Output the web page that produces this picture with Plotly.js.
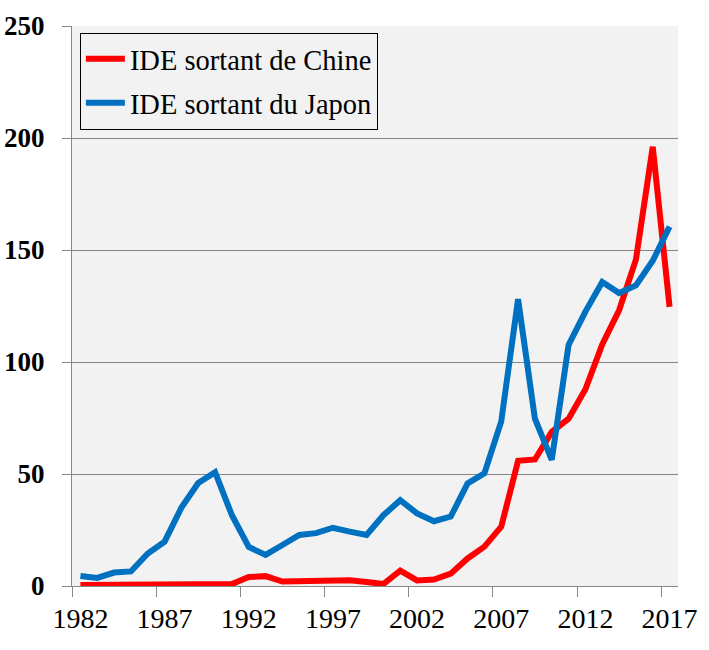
<!DOCTYPE html>
<html>
<head>
<meta charset="utf-8">
<script src="https://cdn.plot.ly/plotly-3.0.1.min.js"></script>
<style>html,body{margin:0;padding:0;background:#fff;}#chart{width:709px;height:650px;}</style>
</head>
<body>
<div id="chart"></div>
<script>
var years = [1982,1983,1984,1985,1986,1987,1988,1989,1990,1991,1992,1993,1994,1995,1996,1997,1998,1999,2000,2001,2002,2003,2004,2005,2006,2007,2008,2009,2010,2011,2012,2013,2014,2015,2016,2017];
var chine = [0.5,0.5,0.5,0.6,0.5,0.6,0.8,0.8,0.8,0.9,4.0,4.4,2.0,2.0,2.1,2.6,2.6,1.8,0.9,6.9,2.5,2.9,5.5,12.3,17.6,26.5,55.9,56.5,68.8,74.7,87.8,107.8,123.1,145.7,196.1,124.6];
var japon = [4.5,3.6,6.0,6.5,14.5,19.8,35.0,46.0,50.8,31.6,17.4,13.9,18.3,22.8,23.6,26.0,24.3,22.8,31.6,38.3,32.4,28.9,31.0,45.8,50.3,73.5,128.0,74.7,56.3,107.6,122.5,135.7,130.8,134.2,145.2,160.4];
var tickBoundaries = [1981.5,1986.5,1991.5,1996.5,2001.5,2006.5,2011.5,2016.5];
var labelYears = [1982,1987,1992,1997,2002,2007,2012,2017];
var tickLabels = ['1982','1987','1992','1997','2002','2007','2012','2017'];
var seriesNames = ['IDE sortant de Chine','IDE sortant du Japon'];

var serif = "Liberation Serif";
var data = [
  {x: years, y: chine, type: 'scatter', mode: 'lines', name: seriesNames[0], legendgroup: 'a',
   line: {color: '#ff0000', width: 6}},
  {x: years, y: japon, type: 'scatter', mode: 'lines', name: seriesNames[1], legendgroup: 'b',
   line: {color: '#0070c0', width: 6}},
  {x: labelYears, y: labelYears.map(function(){return null;}), xaxis: 'x2', type: 'scatter', mode: 'lines',
   showlegend: false, hoverinfo: 'skip'}
];
var layout = {
  width: 709, height: 650,
  font: {family: serif, size: 28, color: '#000'},
  margin: {l: 72, r: 31, t: 26, b: 64},
  paper_bgcolor: '#ffffff',
  plot_bgcolor: '#f2f2f2',
  showlegend: true,
  legend: {
    x: 0.013, y: 0.988, xanchor: 'left', yanchor: 'top',
    bgcolor: '#f2f2f2', bordercolor: '#000000', borderwidth: 1,
    font: {family: serif, size: 28.5, color: '#000'},
    traceorder: 'grouped', tracegroupgap: 4, itemwidth: 39
  },
  xaxis: {
    range: [1981.5, 2017.5],
    tickmode: 'array', tickvals: tickBoundaries, ticktext: tickBoundaries.map(function(){return '';}),
    ticks: 'outside', ticklen: 10, tickcolor: '#868686', tickwidth: 1,
    showgrid: false, zeroline: false,
    showline: true, linecolor: '#868686', linewidth: 1,
    fixedrange: true
  },
  xaxis2: {
    overlaying: 'x', anchor: 'y', side: 'bottom',
    range: [1981.5, 2017.5],
    tickmode: 'array', tickvals: labelYears, ticktext: tickLabels,
    ticks: '', showgrid: false, zeroline: false, showline: false,
    tickfont: {family: serif, size: 28, color: '#000'},
    ticklabelstandoff: 13,
    fixedrange: true
  },
  yaxis: {
    range: [0, 250], tickmode: 'linear', tick0: 0, dtick: 50,
    ticks: 'outside', ticklen: 9, tickcolor: '#868686', tickwidth: 1,
    showgrid: true, gridcolor: '#868686', gridwidth: 1,
    zeroline: false,
    showline: true, linecolor: '#868686', linewidth: 1,
    tickfont: {family: serif, size: 27, color: '#000', weight: 'bold'},
    ticklabelstandoff: 12,
    fixedrange: true
  }
};
Plotly.newPlot('chart', data, layout, {displayModeBar: false, staticPlot: true});
</script>
</body>
</html>
